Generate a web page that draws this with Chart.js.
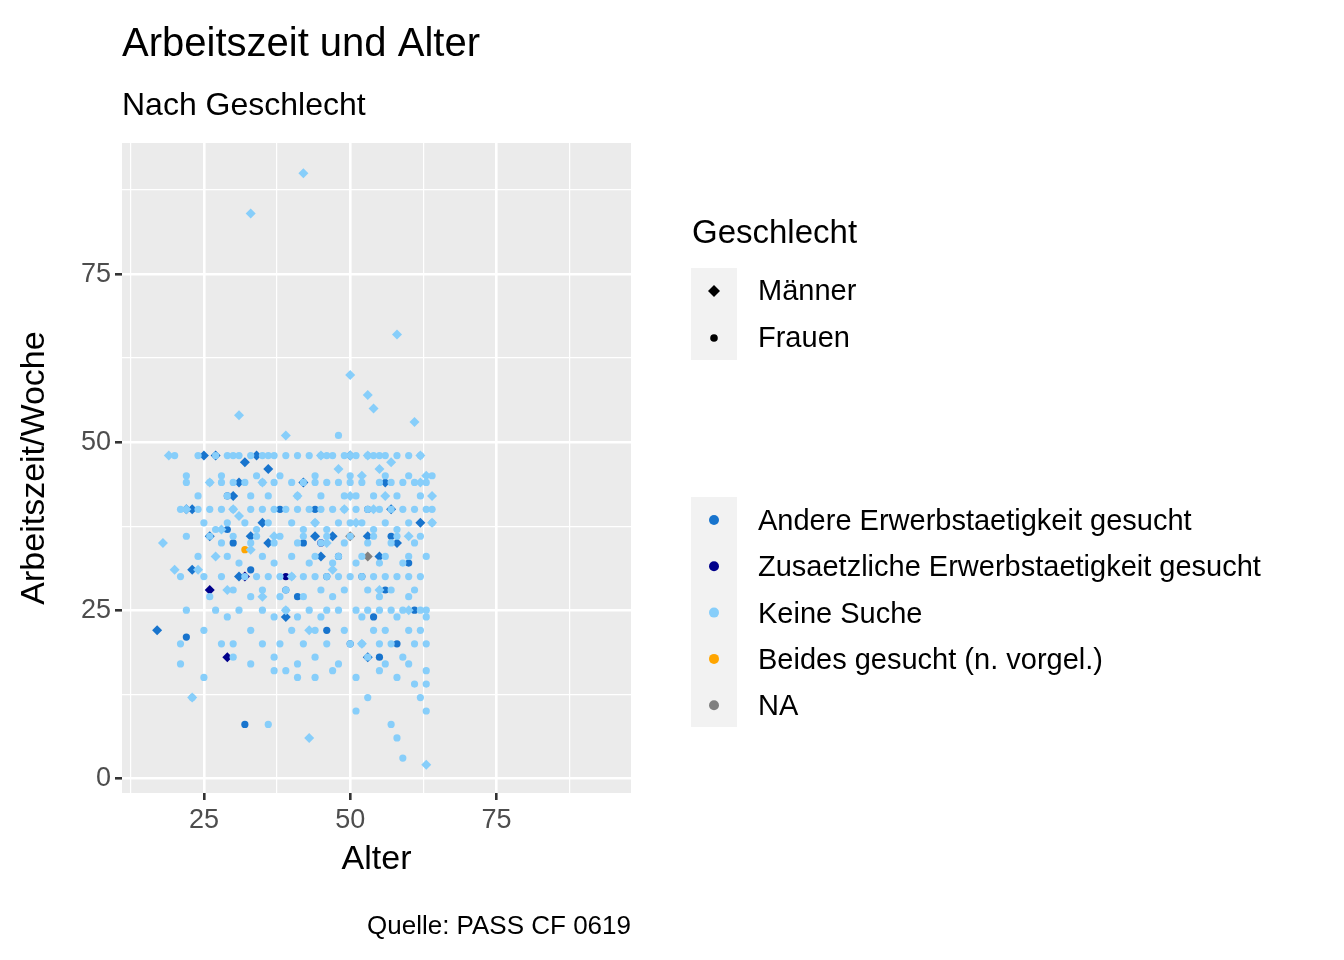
<!DOCTYPE html>
<html><head><meta charset="utf-8">
<script src="https://cdn.jsdelivr.net/npm/chart.js@4/dist/chart.umd.min.js"></script>
<style>html,body{margin:0;padding:0;background:#fff}canvas{display:block}</style>
</head><body>
<div style="width:1344px;height:960px"><canvas id="c" width="1344" height="960"></canvas></div>
<script>
// Women, "Keine Suche": rows of [hours, ages...]
const keineFRows = [
 [48,20,24,27,29,30,31,33,35,36,37,39,41,43,45,46,47,49,51,53,54,55,56,58,60,62],
 [45,22,28,34,38,44,50,56,60,64],
 [44,22,26,28,30,32,35,37,40,42,44,46,48,50,52,55,57,59,61,63],
 [42,24,29,33,36,41,45,49,51,54,58,62],
 [40,21,24,26,28,30,33,35,37,39,41,43,45,47,49,51,53,55,57,59,61,63,64],
 [38,25,29,32,36,40,44,48,50,52,56,60,64],
 [37,27,34,42,46,54,58],
 [36,22,26,30,34,38,42,46,50,54,58,62],
 [35,28,33,37,41,45,49,53,57,61],
 [33,24,29,35,40,44,48,52,56,60,63],
 [32,31,37,43,47,51,55,59],
 [30,21,25,28,32,34,36,38,40,42,44,46,48,50,52,54,56,58,60,62],
 [28,30,35,39,45,49,53,57,61],
 [27,26,33,38,42,47,55,60],
 [25,22,27,31,35,39,43,46,48,51,53,55,57,59,62,63],
 [24,29,37,41,45,52,58,63],
 [22,25,33,40,44,49,54,56,60,62],
 [20,21,28,30,35,38,42,46,50,52,55,57,61,63],
 [18,30,37,44,53,59],
 [17,21,33,41,48,56,60],
 [16,37,39,47,55,63],
 [15,25,41,44,51,58],
 [14,61,63],[12,23,53,62],[10,51,63],[8,36,57],[6,58],[3,59],[51,48]
];
const keineM = [[42,90],[33,84],[58,66],[50,60],[53,57],[54,55],[61,53],[31,54],[39,51],[18,35],[20,31],[23,12],[43,6],[63,2],[19,48],[62,48],[63,45],[64,42],[64,38],[62,44],[57,47],[45,48],[48,46],[52,45],[35,44],[41,42],[30,40],[37,36],[44,38],[50,42],[54,40],[60,36],[27,33],[33,34],[47,31],[55,28],[60,25],[39,25],[29,28],[24,31],[49,40],[51,38],[56,42],[46,35],[40,30],[35,27],[52,20],[43,22],[31,39],[26,44],[22,40],[28,37],[50,48],[53,48],[55,46]];
const andereM = [[17,22],[25,48],[27,48],[22,40],[23,40],[23,31],[26,36],[30,42],[31,44],[32,47],[34,48],[36,46],[33,36],[36,35],[39,24],[44,36],[45,33],[50,48],[53,36],[55,33],[57,40],[58,35],[62,38],[56,44],[53,18],[35,38],[31,30],[47,36],[42,44]];
const andereF = [[22,21],[32,8],[29,42],[30,35],[33,31],[38,40],[46,30],[48,33],[41,27],[52,30],[54,24],[56,28],[58,20],[60,32],[61,25],[44,40],[50,20],[53,40],[57,36],[39,28],[46,22],[55,18],[29,37],[42,35]];
const zusM = [[26,28],[29,18],[32,30]];
const zusF = [[39,30],[45,35]];
const beidesF = [[32,34]];
const naM = [[50,36],[53,33]];
const xTicks = [12.5,25,37.5,50,62.5,75,87.5];
const yTicks = [0,12.5,25,37.5,50,62.5,75,87.5];
const searchLabels = ['Andere Erwerbstaetigkeit gesucht','Zusaetzliche Erwerbstaetigkeit gesucht','Keine Suche','Beides gesucht (n. vorgel.)','NA'];
const searchColors = ['#1874CD','#00008B','#87CEFA','#FFA500','#808080'];

const keineF = [];
keineFRows.forEach(r => r.slice(1).forEach(a => keineF.push([a, r[0]])));
const pts = a => a.map(p => ({x:p[0], y:p[1]}));
const ds = (d, c, men) => ({data:pts(d), backgroundColor:c, borderColor:c, borderWidth:0,
  pointStyle: men ? 'rectRot' : 'circle', pointRadius: men ? 5 : 3.6, pointHoverRadius: men?5:3.6});
const F = '"Liberation Sans", Arial, sans-serif';

const deco = {
  id:'deco',
  beforeDraw(ch){
    const {ctx, chartArea:a} = ch;
    ctx.save(); ctx.fillStyle='#EBEBEB'; ctx.fillRect(a.left,a.top,a.right-a.left,a.bottom-a.top); ctx.restore();
  },
  afterDraw(ch){
    const ctx = ch.ctx; ctx.save();
    ctx.fillStyle='#000'; ctx.textBaseline='alphabetic'; ctx.textAlign='left';
    ctx.font='40px '+F; ctx.fillText('Arbeitszeit und Alter',122,56);
    ctx.font='32px '+F; ctx.fillText('Nach Geschlecht',122,115);
    ctx.textAlign='right'; ctx.font='26px '+F; ctx.fillText('Quelle: PASS CF 0619',631,934);
    ctx.textAlign='left'; ctx.font='33px '+F; ctx.fillText('Geschlecht',692,243);
    ctx.fillStyle='#F2F2F2'; ctx.fillRect(691,268,46,92); ctx.fillRect(691,497,46,230);
    ctx.fillStyle='#000'; ctx.font='29px '+F; ctx.textBaseline='middle';
    // diamond
    ctx.beginPath(); ctx.moveTo(714,285); ctx.lineTo(720,291); ctx.lineTo(714,297); ctx.lineTo(708,291); ctx.closePath(); ctx.fill();
    ctx.beginPath(); ctx.arc(714,338,3.8,0,Math.PI*2); ctx.fill();
    ctx.fillText('Männer',758,292); ctx.fillText('Frauen',758,339);
    searchLabels.forEach((l,i)=>{
      const y = 520 + i*46.3;
      ctx.fillStyle=searchColors[i]; ctx.beginPath(); ctx.arc(714,y,5,0,Math.PI*2); ctx.fill();
      ctx.fillStyle='#000'; ctx.fillText(l,758,y+2);
    });
    ctx.restore();
  }
};
const gridW = c => (c.tick && c.tick.value % 25 === 0) ? 2.6 : 1.2;
const tickC = c => (c.tick && c.tick.value % 25 === 0) ? '#333333' : 'rgba(0,0,0,0)';
new Chart(document.getElementById('c'), {
  type:'scatter',
  data:{datasets:[
    ds(keineF,searchColors[2],false), ds(keineM,searchColors[2],true),
    ds(andereM,searchColors[0],true), ds(andereF,searchColors[0],false),
    ds(zusM,searchColors[1],true), ds(zusF,searchColors[1],false),
    ds(beidesF,searchColors[3],false), ds(naM,searchColors[4],true)
  ]},
  options:{
    responsive:false, animation:false, devicePixelRatio:1,
    layout:{padding:{left:0,right:713,top:143,bottom:80}},
    plugins:{legend:{display:false}, tooltip:{enabled:false}},
    scales:{
      x:{type:'linear', min:11, max:98,
        afterBuildTicks:s=>{s.ticks=xTicks.map(v=>({value:v}));},
        afterFit:s=>{s.height=87;},
        grid:{color:'#FFFFFF', lineWidth:gridW, tickColor:tickC, tickLength:7, drawTicks:true},
        border:{display:false},
        ticks:{color:'#4D4D4D', font:{family:F,size:27}, padding:4, maxRotation:0, autoSkip:false,
          callback:v=> v%25===0 ? String(v) : ''},
        title:{display:true,text:'Alter',color:'#000',font:{family:F,size:34},padding:{top:0,bottom:0}}
      },
      y:{type:'linear', min:-2.2, max:94.5,
        afterBuildTicks:s=>{s.ticks=yTicks.map(v=>({value:v}));},
        afterFit:s=>{s.width=122;},
        grid:{color:'#FFFFFF', lineWidth:gridW, tickColor:tickC, tickLength:7},
        border:{display:false},
        ticks:{color:'#4D4D4D', font:{family:F,size:27}, padding:4, autoSkip:false,
          callback:v=> v%25===0 ? String(v) : ''},
        title:{display:true,text:'Arbeitszeit/Woche',color:'#000',font:{family:F,size:34},padding:{top:14,bottom:0}}
      }
    }
  },
  plugins:[deco]
});
</script>
</body></html>
